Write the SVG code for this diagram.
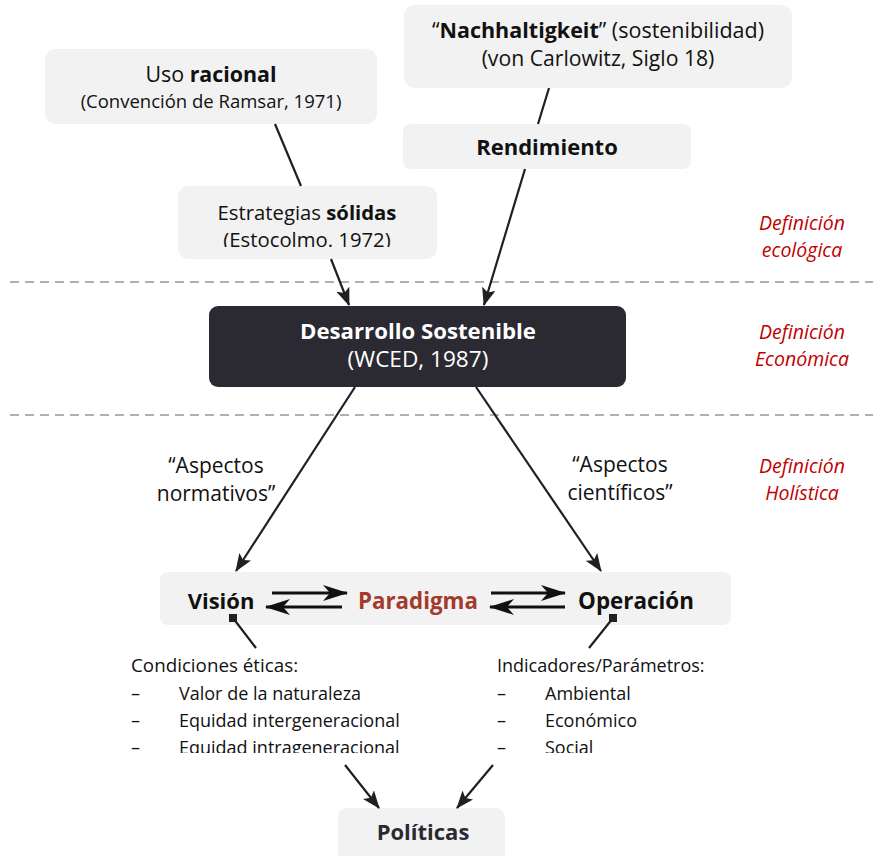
<svg xmlns="http://www.w3.org/2000/svg" width="873" height="856" viewBox="0 0 873 856">
<style>
text{font-family:"Open Sans",Lato,"Liberation Sans",sans-serif;fill:#111;}
.box{fill:#f2f2f2;}
.t{font-size:20px;text-anchor:middle;}
.b{font-weight:bold;}
.red{fill:#c00000;font-style:italic;font-size:19.5px;text-anchor:middle;}
.lst{font-size:18px;}
.dash{stroke:#b0b0b0;stroke-width:2;stroke-dasharray:9 6;fill:none;}
.con{stroke:#1f1f24;stroke-width:2.2;fill:none;}
.dbl{stroke:#111;stroke-width:2.8;fill:none;}
</style>
<defs>
<marker id="ah" markerUnits="userSpaceOnUse" viewBox="0 0 18 14" refX="17" refY="7" markerWidth="18" markerHeight="14" orient="auto">
<path d="M0,0 L18,7 L0,14 L4,7 z" fill="#1f1f24"/>
</marker>
<marker id="dh" markerUnits="userSpaceOnUse" viewBox="0 0 25 16" refX="24" refY="8" markerWidth="25" markerHeight="16" orient="auto">
<path d="M0,0 L25,8 L0,16 L7,8 z" fill="#111"/>
</marker>
<marker id="sq" markerUnits="userSpaceOnUse" viewBox="0 0 8 8" refX="4" refY="4" markerWidth="8" markerHeight="8">
<rect x="0" y="0" width="8" height="8" fill="#1f1f24"/>
</marker>
<clipPath id="c1"><rect x="178" y="186" width="259" height="61"/></clipPath>
<clipPath id="c2"><rect x="120" y="648" width="300" height="105"/></clipPath>
<clipPath id="c3"><rect x="490" y="648" width="240" height="105"/></clipPath>
</defs>

<g id="bands">
<line class="dash" x1="10" y1="282" x2="873" y2="282"/>
<line class="dash" x1="10" y1="415" x2="873" y2="415"/>
<text class="red" x="802" y="230">Definición</text>
<text class="red" x="802" y="257">ecológica</text>
<text class="red" x="802" y="339">Definición</text>
<text class="red" x="802" y="366">Económica</text>
<text class="red" x="802" y="473">Definición</text>
<text class="red" x="802" y="500">Holística</text>
</g>

<g id="uso">
<rect class="box" x="45" y="49" width="332" height="75" rx="11"/>
<text class="t" x="211" y="82" style="font-size:21.4px">Uso <tspan class="b">racional</tspan></text>
<text class="t" x="211" y="108" style="font-size:18.5px">(Convención de Ramsar, 1971)</text>
</g>

<g id="nachhaltigkeit">
<rect class="box" x="404" y="5" width="388" height="83" rx="11"/>
<text class="t" x="598" y="38" style="font-size:21.5px">“<tspan class="b">Nachhaltigkeit</tspan>” (sostenibilidad)</text>
<text class="t" x="598" y="66" style="font-size:21.2px">(von Carlowitz, Siglo 18)</text>
</g>

<g id="rendimiento">
<rect class="box" x="403" y="124" width="288" height="45" rx="8"/>
<text class="t b" x="547" y="155" style="font-size:22px">Rendimiento</text>
</g>

<g id="estrategias">
<rect class="box" x="178" y="186" width="259" height="73" rx="11"/>
<g clip-path="url(#c1)">
<text class="t" x="307" y="220" style="font-size:20.3px">Estrategias <tspan class="b">sólidas</tspan></text>
<text class="t" x="307" y="247" style="font-size:20.3px">(Estocolmo. 1972)</text>
</g>
</g>

<g id="desarrollo">
<rect x="209" y="306" width="417" height="81" rx="9" fill="#2b2a33"/>
<text class="t b" x="418" y="339" style="fill:#fff;font-size:22.2px">Desarrollo Sostenible</text>
<text class="t" x="418" y="367" style="fill:#fff;font-size:22.6px">(WCED, 1987)</text>
</g>

<g id="labels">
<text class="t" x="216" y="473" style="font-size:21px">“Aspectos</text>
<text class="t" x="216" y="501" style="font-size:21px">normativos”</text>
<text class="t" x="620" y="472" style="font-size:21px">“Aspectos</text>
<text class="t" x="620" y="500" style="font-size:21px">científicos”</text>
</g>

<g id="paradigma">
<rect class="box" x="160" y="572" width="571" height="53" rx="8"/>
<text class="t b" x="221" y="609" style="font-size:22px">Visión</text>
<text class="t b" x="418" y="609" style="fill:#a33a2b;font-size:22.3px">Paradigma</text>
<text class="t b" x="636" y="609" style="font-size:22.4px">Operación</text>
<path class="dbl" d="M272,593 L347,593" marker-end="url(#dh)"/>
<path class="dbl" d="M342,607 L266,607" marker-end="url(#dh)"/>
<path class="dbl" d="M491,593 L565,593" marker-end="url(#dh)"/>
<path class="dbl" d="M565,607 L490,607" marker-end="url(#dh)"/>
</g>

<g id="condiciones">
<g clip-path="url(#c2)">
<text class="lst" x="131" y="672" style="font-size:18.8px">Condiciones éticas:</text>
<text class="lst" x="131" y="700">–</text><text class="lst" x="179" y="700">Valor de la naturaleza</text>
<text class="lst" x="131" y="727">–</text><text class="lst" x="179" y="727">Equidad intergeneracional</text>
<text class="lst" x="131" y="754">–</text><text class="lst" x="179" y="754">Equidad intrageneracional</text>
</g>
</g>

<g id="indicadores">
<g clip-path="url(#c3)">
<text class="lst" x="497" y="672">Indicadores/Parámetros:</text>
<text class="lst" x="497" y="700">–</text><text class="lst" x="545" y="700">Ambiental</text>
<text class="lst" x="497" y="727">–</text><text class="lst" x="545" y="727">Económico</text>
<text class="lst" x="497" y="754">–</text><text class="lst" x="545" y="754">Social</text>
</g>
</g>

<g id="politicas">
<rect class="box" x="338" y="808" width="167" height="60" rx="9"/>
<text class="t b" x="423" y="840" style="fill:#2b2a33;font-size:22px">Políticas</text>
</g>

<g id="connectors">
<path class="con" d="M275,124 L301,186 M331,259 L349,305" marker-end="url(#ah)"/>
<path class="con" d="M549,88 L538,124 M525,169 L484,305" marker-end="url(#ah)"/>
<path class="con" d="M355,387 L236,571" marker-end="url(#ah)"/>
<path class="con" d="M476,387 L601,571" marker-end="url(#ah)"/>
<path class="con" d="M233,618 L256,648 M345,765 L379,808" marker-start="url(#sq)" marker-end="url(#ah)"/>
<path class="con" d="M613,618 L589,648 M493,765 L457,808" marker-start="url(#sq)" marker-end="url(#ah)"/>
</g>
</svg>
